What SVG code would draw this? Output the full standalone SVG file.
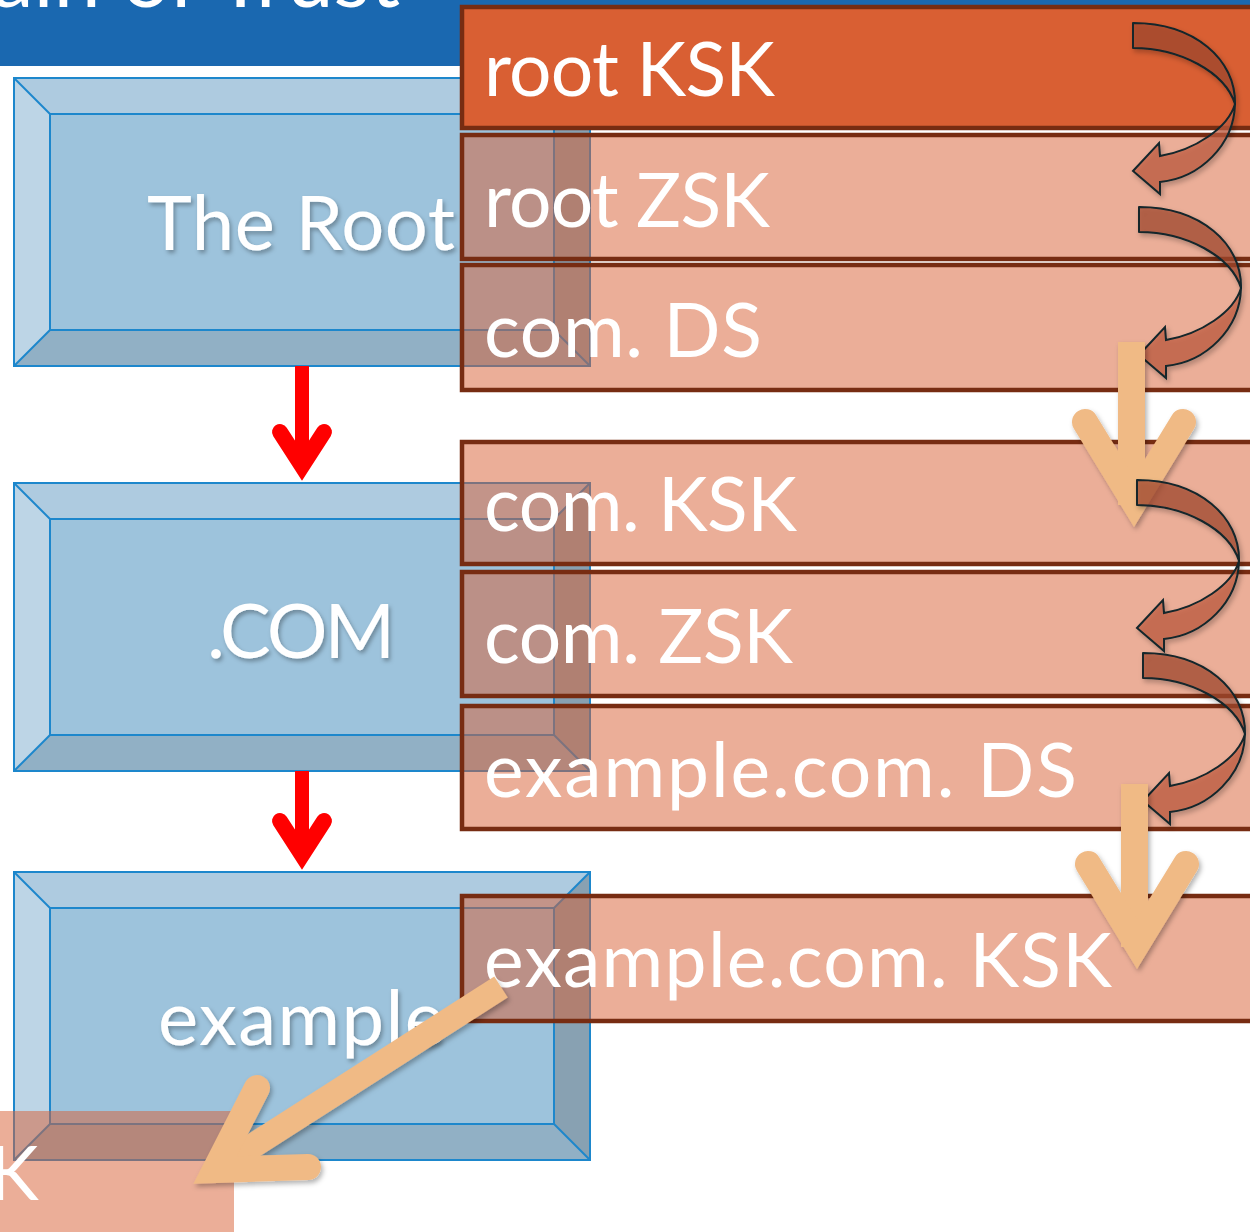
<svg xmlns="http://www.w3.org/2000/svg" xmlns:xlink="http://www.w3.org/1999/xlink" width="1250" height="1232" viewBox="0 0 1250 1232">
<defs>
<style>
.face-top{fill:#aecbe0}
.face-left{fill:#bdd5e6}
.face-mid{fill:#9dc3dc}
.face-bot{fill:#91b0c5}
.face-right{fill:#88a1b2}
.bev{fill:none;stroke:#1d87cc;stroke-width:2}
.key{fill:#d86035;fill-opacity:0.51;stroke:#772c12;stroke-width:4.5}
.key-solid{fill:#d95f33;stroke:#772c12;stroke-width:4.5}
.ktxt{font-family:Lato,"Open Sans","Liberation Sans",sans-serif;font-size:75px;fill:#ffffff}
.btxt{font-family:Lato,"Open Sans","Liberation Sans",sans-serif;font-size:76px;fill:#ffffff;filter:url(#tshadow)}
.cback{fill:#a44a31;fill-opacity:0.7;stroke:#12262c;stroke-width:2;stroke-linejoin:round}
.cfront{fill:#c05d3e;fill-opacity:0.7;stroke:#12262c;stroke-width:2;stroke-linejoin:miter}
.peach{stroke:#f0ba85;fill:none}
.red{stroke:#ff0000;fill:none}
</style>
<filter id="tshadow" x="-10%" y="-10%" width="130%" height="140%">
<feDropShadow dx="2" dy="3" stdDeviation="2" flood-color="#000000" flood-opacity="0.3"/>
</filter>
<filter id="shadow" x="-20%" y="-20%" width="150%" height="150%">
<feDropShadow dx="2" dy="3" stdDeviation="2.5" flood-color="#000000" flood-opacity="0.3"/>
</filter>
<g id="curved">
<path class="cback" d="M1133,23 C1195,23 1236,60 1235,104 C1225,72 1180,48 1133,48 Z"/>
<path class="cfront" d="M1235,104 C1234,145 1200,178 1160,182 L1160,194 L1133,171 L1159,143 L1160,156 C1195,150 1228,128 1235,104 Z"/>
</g>
<g id="bevelbox">
<rect class="face-mid" x="50" y="36" width="504" height="216"/>
<polygon class="face-top" points="14,0 590,0 554,36 50,36"/>
<polygon class="face-left" points="14,0 50,36 50,252 14,288"/>
<polygon class="face-bot" points="14,288 50,252 554,252 590,288"/>
<polygon class="face-right" points="590,0 590,288 554,252 554,36"/>
<rect class="bev" x="14" y="0" width="576" height="288"/>
<rect class="bev" x="50" y="36" width="504" height="216"/>
<line class="bev" x1="14" y1="0" x2="50" y2="36"/>
<line class="bev" x1="590" y1="0" x2="554" y2="36"/>
<line class="bev" x1="14" y1="288" x2="50" y2="252"/>
<line class="bev" x1="590" y1="288" x2="554" y2="252"/>
</g>
</defs>

<g id="header">
<rect x="0" y="0" width="1250" height="66" fill="#1a68b0"/>
<text x="400" y="7" text-anchor="end" font-family="Lato,'Open Sans','Liberation Sans',sans-serif" font-size="84" fill="#ffffff">Chain of Trust</text>
</g>

<g id="node-root">
<use xlink:href="#bevelbox" transform="translate(0,78)"/>
<text class="btxt" x="147" y="250" textLength="308">The Root</text>
</g>
<g id="node-com">
<use xlink:href="#bevelbox" transform="translate(0,483)"/>
<text class="btxt" x="207" y="658" textLength="188">.COM</text>
</g>
<g id="node-example">
<use xlink:href="#bevelbox" transform="translate(0,872)"/>
<text class="btxt" x="158" y="1045" textLength="287">example</text>
</g>

<g id="connectors-red">
<line class="red" x1="302" y1="366" x2="302" y2="470" stroke-width="14"/>
<polyline class="red" points="280,432 302,466 324,432" stroke-width="16" stroke-linecap="round" stroke-linejoin="miter"/>
<line class="red" x1="302" y1="771" x2="302" y2="859" stroke-width="14"/>
<polyline class="red" points="280,821 302,855 324,821" stroke-width="16" stroke-linecap="round" stroke-linejoin="miter"/>
</g>

<g id="key-root-ksk">
<rect class="key-solid" x="462" y="7" width="820" height="121"/>
<text class="ktxt" x="484" y="96" textLength="291">root KSK</text>
</g>
<g id="key-root-zsk">
<rect class="key" x="462" y="135" width="820" height="124"/>
<text class="ktxt" x="484" y="227" textLength="286">root ZSK</text>
</g>
<g id="key-com-ds">
<rect class="key" x="462" y="265" width="820" height="125"/>
<text class="ktxt" x="484" y="357" textLength="278">com. DS</text>
</g>
<g id="key-com-ksk">
<rect class="key" x="462" y="442" width="820" height="122"/>
<text class="ktxt" x="484" y="531" textLength="313">com. KSK</text>
</g>
<g id="key-com-zsk">
<rect class="key" x="462" y="572" width="820" height="124"/>
<text class="ktxt" x="484" y="663" textLength="309">com. ZSK</text>
</g>
<g id="key-example-ds">
<rect class="key" x="462" y="706" width="820" height="123"/>
<text class="ktxt" x="484" y="797" textLength="593">example.com. DS</text>
</g>
<g id="key-example-ksk">
<rect class="key" x="462" y="896" width="820" height="125"/>
<text class="ktxt" x="484" y="987" textLength="628">example.com. KSK</text>
</g>

<g id="connectors">
<g filter="url(#shadow)"><use xlink:href="#curved"/></g>
<g filter="url(#shadow)"><use xlink:href="#curved" transform="translate(6,184)"/></g>
<g filter="url(#shadow)">
<line class="peach" x1="1131.5" y1="342" x2="1131.5" y2="505" stroke-width="27"/>
<polyline class="peach" points="1085,422 1134,502 1183,422" stroke-width="26" stroke-linecap="round" stroke-linejoin="miter"/>
</g>
<g filter="url(#shadow)"><use xlink:href="#curved" transform="translate(4,457)"/></g>
<g filter="url(#shadow)"><use xlink:href="#curved" transform="translate(10,630)"/></g>
<g filter="url(#shadow)">
<line class="peach" x1="1134.5" y1="784" x2="1134.5" y2="947" stroke-width="27"/>
<polyline class="peach" points="1088,864 1137,944 1186,864" stroke-width="26" stroke-linecap="round" stroke-linejoin="miter"/>
</g>
</g>

<g id="key-partial">
<rect x="-20" y="1111" width="254" height="140" fill="#d86035" fill-opacity="0.51"/>
<text class="ktxt" x="-11" y="1200">K</text>
</g>

<g id="connector-diagonal" filter="url(#shadow)">
<line class="peach" x1="501" y1="987" x2="215" y2="1170" stroke-width="25"/>
<polyline class="peach" points="257,1088 215,1170 308,1167" stroke-width="26" stroke-linecap="round" stroke-linejoin="miter"/>
</g>
</svg>
